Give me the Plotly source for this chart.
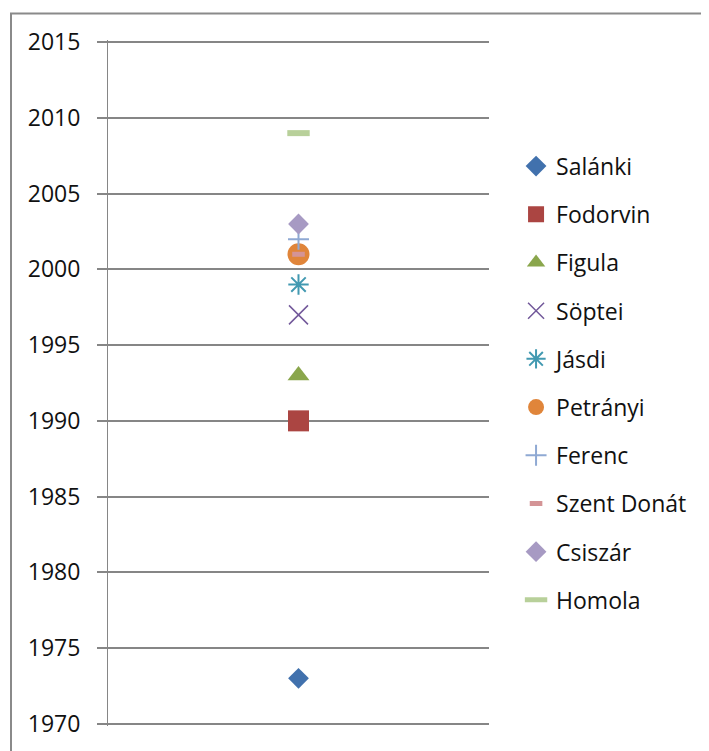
import plotly.graph_objects as go

# ---- data ----
names = ["Salánki", "Fodorvin", "Figula", "Söptei", "Jásdi",
         "Petrányi", "Ferenc", "Szent Donát", "Csiszár", "Homola"]
years = [1973, 1990, 1993, 1997, 1999, 2001, 2002, 2001, 2003, 2009]
category = [""]
y_ticks = [1970, 1975, 1980, 1985, 1990, 1995, 2000, 2005, 2010, 2015]

# ---- styles ----
symbols = ["diamond", "square", "triangle-up", "x-thin-open", "asterisk-open",
           "circle", "cross-thin-open", "line-ew-open", "diamond", "line-ew-open"]
colors = ["#4171AD", "#AB4542", "#8AA64C", "#72589A", "#4299B1",
          "#E0853A", "#8FA9D3", "#D49496", "#A79AC3", "#B8D09A"]
sizes = [16, 21, 19, 19, 17, 22, 15, 9, 16, 16]
line_w = [0, 0, 0, 1.5, 2, 0, 2, 5, 0, 6]

FONT = "Open Sans"
GRID = "#868686"

fig = go.Figure()
for i, (n, yv) in enumerate(zip(names, years)):
    fig.add_trace(go.Scatter(
        x=category, y=[yv], name=n, mode="markers", legendgroup=n,
        marker=dict(symbol=symbols[i], color=colors[i], size=sizes[i],
                    line=dict(width=line_w[i], color=colors[i])),
        cliponaxis=False,
    ))

fig.update_layout(
    width=701, height=743,
    margin=dict(l=100, r=220, t=31.7, b=20.7),
    paper_bgcolor="white", plot_bgcolor="white",
    font=dict(family=FONT, size=23, color="#111111"),
    showlegend=True,
    legend=dict(x=1.071, xanchor="left", y=0.8475, yanchor="top",
                tracegroupgap=15.3, bgcolor="rgba(0,0,0,0)",
                font=dict(family=FONT, size=23, color="#111111")),
    xaxis=dict(type="category", range=[-0.5, 0.5], showticklabels=False,
               showgrid=False, zeroline=False, showline=False, ticks=""),
    yaxis=dict(range=[1969.85, 2015.15], tickvals=y_ticks, showgrid=True,
               gridcolor=GRID, gridwidth=1.5, zeroline=False,
               showline=True, linecolor=GRID, linewidth=1,
               ticks="outside", ticklen=10, tickcolor=GRID, tickwidth=1.5,
               ticklabelstandoff=12,
               tickfont=dict(family=FONT, size=23, color="#111111")),
    shapes=[dict(type="rect", xref="paper", yref="paper",
                 x0=-0.2546, x1=2.0, y0=-0.3, y1=1.0387,
                 line=dict(color="#8A8A8A", width=2), fillcolor="rgba(0,0,0,0)",
                 layer="below")],
)

fig.write_html("out.html")
